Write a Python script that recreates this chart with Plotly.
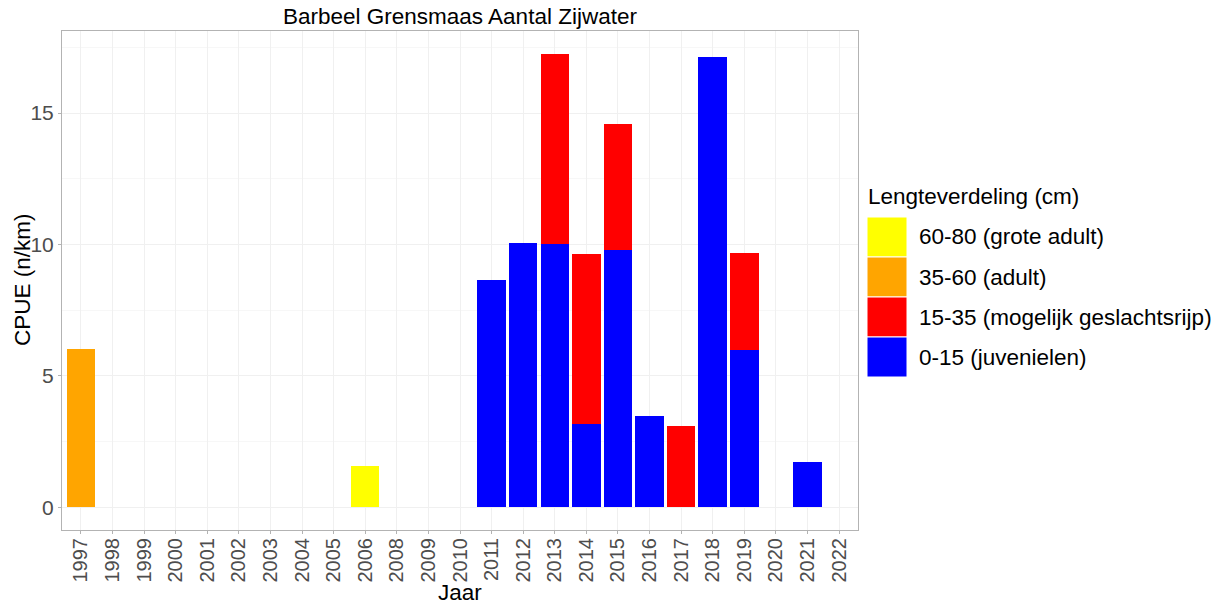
import plotly.graph_objects as go

# ---- data ----
years = ["1997", "1998", "1999", "2000", "2001", "2002", "2003", "2004", "2005", "2006",
         "2008", "2009", "2010", "2011", "2012", "2013", "2014", "2015", "2016", "2017",
         "2018", "2019", "2020", "2021", "2022"]

juv_years = ["2011", "2012", "2013", "2014", "2015", "2016", "2018", "2019", "2021"]
juv_vals = [8.66, 10.06, 10.01, 3.17, 9.79, 3.47, 17.13, 5.99, 1.73]

mid_years = ["2013", "2014", "2015", "2017", "2019"]
mid_vals = [7.25, 6.46, 4.81, 3.09, 3.68]

adult_years = ["1997"]
adult_vals = [6.04]

big_years = ["2006"]
big_vals = [1.57]

series = [
    ("0-15 (juvenielen)", juv_years, juv_vals, "#0000FF"),
    ("15-35 (mogelijk geslachtsrijp)", mid_years, mid_vals, "#FF0000"),
    ("35-60 (adult)", adult_years, adult_vals, "#FFA500"),
    ("60-80 (grote adult)", big_years, big_vals, "#FFFF00"),
]
legend_order = ["60-80 (grote adult)", "35-60 (adult)", "15-35 (mogelijk geslachtsrijp)", "0-15 (juvenielen)"]
legend_title = "Lengteverdeling (cm)"
title_text = "Barbeel Grensmaas Aantal Zijwater"
x_title = "Jaar"
y_title = "CPUE (n/km)"

# ---- layout geometry (screen px; page body has an 8px default margin) ----
OFF = 8
W, H = 1222 - OFF, 604 - OFF
L, R, T, B = 62 - OFF, 858 - OFF, 31 - OFF, 530 - OFF
pw, ph = R - L, B - T

def px_x(x):
    return (x - OFF - L) / pw

def px_y(y):
    return (B - (y - OFF)) / ph

fig = go.Figure()
for name, xs, ys, col in series:
    fig.add_trace(go.Bar(x=xs, y=ys, name=name, marker=dict(color=col, line=dict(width=0)),
                         showlegend=False))

# total max for y expansion
totals = {}
for name, xs, ys, col in series:
    for x, y in zip(xs, ys):
        totals[x] = totals.get(x, 0) + y
ymax = max(totals.values())

font = "Liberation Sans, Arial, sans-serif"
fig.update_layout(
    width=W, height=H,
    margin=dict(l=L, r=W - R, t=T, b=H - B, autoexpand=False),
    barmode="stack", bargap=0.1,
    plot_bgcolor="white", paper_bgcolor="white",
    font=dict(family=font, color="black"),
    showlegend=False,
)
fig.update_xaxes(
    type="category", categoryorder="array", categoryarray=years,
    range=[-0.6, len(years) - 0.4], automargin=False,
    showgrid=True, gridcolor="#F0F0F0", gridwidth=1,
    showline=True, linecolor="#B3B3B3", mirror=True, linewidth=1,
    ticks="outside", ticklen=3, tickcolor="#B3B3B3",
    tickangle=-90, tickfont=dict(size=20, color="#4D4D4D"),
    ticklabelstandoff=-4,
    zeroline=False,
)
fig.update_yaxes(
    range=[-0.05 * ymax, 1.05 * ymax], automargin=False,
    tickvals=[0, 5, 10, 15],
    showgrid=True, gridcolor="#F0F0F0", gridwidth=1,
    minor=dict(tickvals=[2.5, 7.5, 12.5, 17.5], showgrid=True, gridcolor="#F7F7F7", ticks=""),
    showline=True, linecolor="#B3B3B3", mirror=True, linewidth=1,
    ticks="outside", ticklen=3, tickcolor="#B3B3B3",
    tickfont=dict(size=21, color="#4D4D4D"),
    zeroline=False,
)

# titles as annotations for exact placement
fig.add_annotation(text=title_text, xref="paper", yref="paper",
                   x=px_x(460), y=px_y(17), xanchor="center", yanchor="middle",
                   showarrow=False, font=dict(size=22.5, color="black"))
fig.add_annotation(text=x_title, xref="paper", yref="paper",
                   x=px_x(460), y=px_y(592), xanchor="center", yanchor="middle",
                   showarrow=False, font=dict(size=22.5, color="black"))
fig.add_annotation(text=y_title, xref="paper", yref="paper", textangle=-90,
                   x=px_x(22), y=px_y(280), xanchor="center", yanchor="middle",
                   showarrow=False, font=dict(size=22.5, color="black"))

# ---- manual legend (large keys as in reference) ----
colmap = {name: col for name, xs, ys, col in series}
fig.add_annotation(text=legend_title, xref="paper", yref="paper",
                   x=px_x(866), y=px_y(196), xanchor="left", yanchor="middle",
                   showarrow=False, font=dict(size=22.5, color="black"))
key_top = 217
key_h = 40
for i, name in enumerate(legend_order):
    y0 = key_top + i * key_h
    fig.add_shape(type="rect", xref="paper", yref="paper",
                  x0=px_x(867), x1=px_x(907), y0=px_y(y0 + key_h), y1=px_y(y0),
                  fillcolor=colmap[name], line=dict(color="white", width=1), layer="above")
    fig.add_annotation(text=name, xref="paper", yref="paper",
                       x=px_x(917), y=px_y(y0 + key_h / 2), xanchor="left", yanchor="middle",
                       showarrow=False, font=dict(size=22.5, color="black"))

fig.write_html("out.html")
